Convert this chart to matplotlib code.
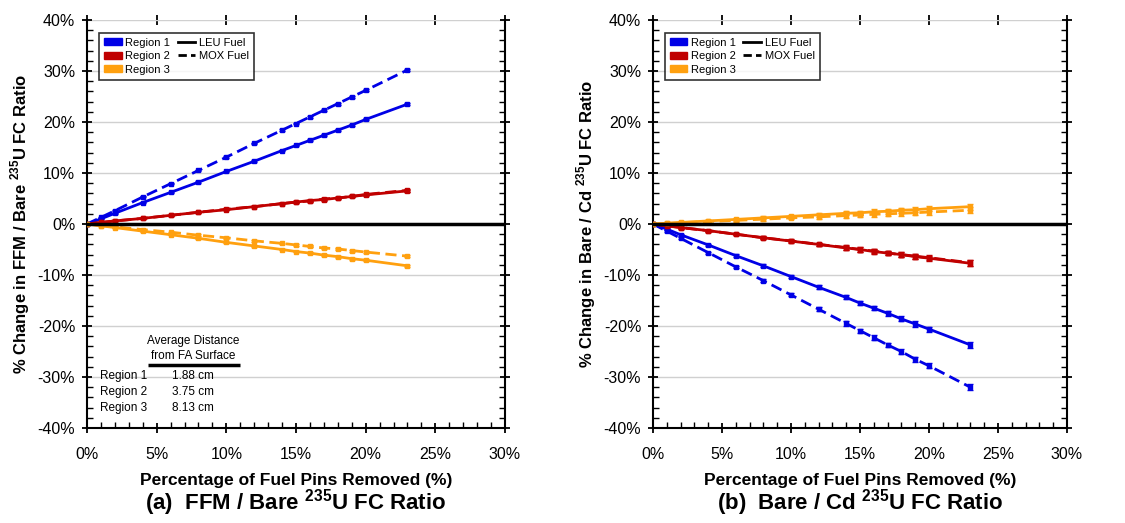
import numpy as np
import matplotlib
matplotlib.use("Agg")
import matplotlib.pyplot as plt
from matplotlib.patches import Patch
from matplotlib.lines import Line2D
from matplotlib.ticker import MultipleLocator, PercentFormatter

plt.rcParams["font.family"] = ["Liberation Sans", "DejaVu Sans"]
plt.rcParams["mathtext.fontset"] = "custom"
plt.rcParams["mathtext.rm"] = "Liberation Sans"
plt.rcParams["mathtext.bf"] = "Liberation Sans:bold"
plt.rcParams["axes.unicode_minus"] = False

# ---------------- Data ----------------

pins_removed = [0, 1, 2, 4, 6, 8, 10, 12, 14, 15, 16, 17, 18, 19, 20, 23]

# (a) FFM / Bare ratio, % change
ffm_r1_leu = [0, 1.0, 2.1, 4.2, 6.2, 8.2, 10.3, 12.3, 14.4, 15.4, 16.4, 17.4, 18.4, 19.4, 20.5, 23.5]
ffm_r1_mox = [0, 1.3, 2.6, 5.3, 7.9, 10.5, 13.1, 15.8, 18.4, 19.7, 21.0, 22.3, 23.6, 24.9, 26.2, 30.2]
ffm_r2_leu = [0, 0.3, 0.6, 1.1, 1.7, 2.3, 2.8, 3.4, 4.0, 4.3, 4.6, 4.8, 5.1, 5.4, 5.7, 6.5]
ffm_r2_mox = [0, 0.3, 0.6, 1.1, 1.7, 2.3, 2.9, 3.4, 4.0, 4.3, 4.5, 4.9, 5.1, 5.4, 5.8, 6.6]
ffm_r3_leu = [0, -0.35, -0.7, -1.4, -2.1, -2.8, -3.6, -4.3, -5.0, -5.4, -5.7, -6.1, -6.4, -6.8, -7.1, -8.2]
ffm_r3_mox = [0, -0.3, -0.55, -1.1, -1.6, -2.2, -2.7, -3.3, -3.8, -4.1, -4.4, -4.7, -4.9, -5.2, -5.5, -6.3]

# (b) Bare / Cd ratio, % change
cd_r1_leu = [0, -1.0, -2.1, -4.1, -6.2, -8.2, -10.3, -12.4, -14.4, -15.5, -16.5, -17.5, -18.6, -19.6, -20.6, -23.7]
cd_r1_mox = [0, -1.4, -2.8, -5.6, -8.4, -11.1, -13.9, -16.7, -19.5, -20.9, -22.3, -23.7, -25.0, -26.5, -27.8, -32.0]
cd_r2_leu = [0, -0.35, -0.7, -1.3, -2.0, -2.7, -3.35, -4.0, -4.7, -5.0, -5.4, -5.7, -6.0, -6.4, -6.7, -7.7]
cd_r2_mox = [0, -0.35, -0.7, -1.3, -2.0, -2.7, -3.3, -4.0, -4.6, -5.0, -5.3, -5.7, -6.0, -6.3, -6.6, -7.6]
cd_r3_leu = [0, 0.15, 0.3, 0.6, 0.9, 1.2, 1.5, 1.8, 2.1, 2.2, 2.4, 2.5, 2.7, 2.8, 3.0, 3.4]
cd_r3_mox = [0, 0.1, 0.25, 0.5, 0.7, 0.95, 1.2, 1.4, 1.65, 1.75, 1.9, 2.0, 2.1, 2.2, 2.35, 2.7]

ffm_err = [0, 0.1, 0.1, 0.1, 0.1, 0.15, 0.15, 0.15, 0.15, 0.15, 0.2, 0.2, 0.2, 0.2, 0.2, 0.25]
cd_err = [0, 0.2, 0.2, 0.2, 0.25, 0.3, 0.3, 0.35, 0.4, 0.4, 0.45, 0.45, 0.5, 0.5, 0.5, 0.6]

region_names = ["Region 1", "Region 2", "Region 3"]
region_dist = ["1.88 cm", "3.75 cm", "8.13 cm"]

colors = ["#0000E6", "#C00000", "#FFA00F"]

ylabels = [
    r"% Change in FFM / Bare $^{\mathbf{235}}$U FC Ratio",
    r"% Change in Bare / Cd $^{\mathbf{235}}$U FC Ratio",
]
captions = [
    r"(a)  FFM / Bare $^{\mathbf{235}}$U FC Ratio",
    r"(b)  Bare / Cd $^{\mathbf{235}}$U FC Ratio",
]

panels = [
    ([ffm_r1_leu, ffm_r2_leu, ffm_r3_leu], [ffm_r1_mox, ffm_r2_mox, ffm_r3_mox], ffm_err),
    ([cd_r1_leu, cd_r2_leu, cd_r3_leu], [cd_r1_mox, cd_r2_mox, cd_r3_mox], cd_err),
]

fig = plt.figure(figsize=(11.25, 5.23), dpi=100)

axes = [
    fig.add_axes([0.0773, 0.1816, 0.3716, 0.7802]),
    fig.add_axes([0.5804, 0.1816, 0.3680, 0.7802]),
]

for i, ax in enumerate(axes):

    leu, mox, err = panels[i]

    for k in range(3):
        ax.errorbar(pins_removed, leu[k], yerr=err, color=colors[k], lw=2,
                    marker="s", ms=2.2, capsize=2, elinewidth=1, zorder=3)
        ax.errorbar(pins_removed, mox[k], yerr=err, color=colors[k], lw=2,
                    ls=(0, (4, 2)), marker="s", ms=2.2, capsize=2, elinewidth=1, zorder=3)

    ax.axhline(0, color="black", lw=2.5, zorder=4)

    ax.set_xlim(0, 30)
    ax.set_ylim(-40, 40)
    ax.xaxis.set_major_locator(MultipleLocator(5))
    ax.xaxis.set_minor_locator(MultipleLocator(1))
    ax.yaxis.set_major_locator(MultipleLocator(10))
    ax.yaxis.set_minor_locator(MultipleLocator(2))
    ax.xaxis.set_major_formatter(PercentFormatter(decimals=0))
    ax.yaxis.set_major_formatter(PercentFormatter(decimals=0))

    ax.grid(axis="y", which="major", color="#D0D0D0", lw=1, zorder=0)

    ax.spines["top"].set_visible(False)
    for s in ["left", "bottom", "right"]:
        ax.spines[s].set_linewidth(1.5)

    ax.tick_params(which="major", direction="inout", length=7, width=1.3,
                   top=True, right=True, labelsize=11.5, pad=5)
    ax.tick_params(which="minor", direction="in", length=4, width=1,
                   top=False, right=True)
    ax.tick_params(axis="x", which="major", pad=10)

    ax.set_xlabel("Percentage of Fuel Pins Removed (%)", fontsize=12.5,
                  fontweight="bold", labelpad=8)
    ax.set_ylabel(ylabels[i], fontsize=12, fontweight="bold", labelpad=4)

    ax.text(0.5, -0.183, captions[i], transform=ax.transAxes, ha="center",
            va="center", fontsize=16, fontweight="bold")

    handles = [
        Patch(color=colors[0], label="Region 1"),
        Patch(color=colors[1], label="Region 2"),
        Patch(color=colors[2], label="Region 3"),
        Line2D([], [], color="black", lw=2, label="LEU Fuel"),
        Line2D([], [], color="black", lw=2, ls=(0, (3, 1.5)), label="MOX Fuel"),
    ]
    leg = ax.legend(handles=handles, ncol=2, loc="upper left",
                    bbox_to_anchor=(0.015, 0.982), fontsize=8,
                    frameon=True, fancybox=False, edgecolor="black",
                    handlelength=1.6, handleheight=0.6, handletextpad=0.3,
                    columnspacing=0.7, labelspacing=0.3, borderpad=0.45)
    leg.get_frame().set_linewidth(1.2)

# ---------------- Distance table ----------------

ax = axes[0]
ax.fill_between([0.3, 11.1], -37.8, -28.3, color="white", zorder=1)
ax.text(7.6, -24.4, "Average Distance\nfrom FA Surface", ha="center",
        va="center", fontsize=8.5, linespacing=1.4, zorder=5)
ax.plot([4.4, 11.0], [-27.6, -27.6], color="black", lw=2.5, zorder=5,
        solid_capstyle="butt")
for j in range(3):
    yy = -29.8 - 3.15 * j
    ax.text(0.95, yy, region_names[j], ha="left", va="center", fontsize=8.5, zorder=5)
    ax.text(7.6, yy, region_dist[j], ha="center", va="center", fontsize=8.5, zorder=5)

fig.savefig("out.png", dpi=100)
